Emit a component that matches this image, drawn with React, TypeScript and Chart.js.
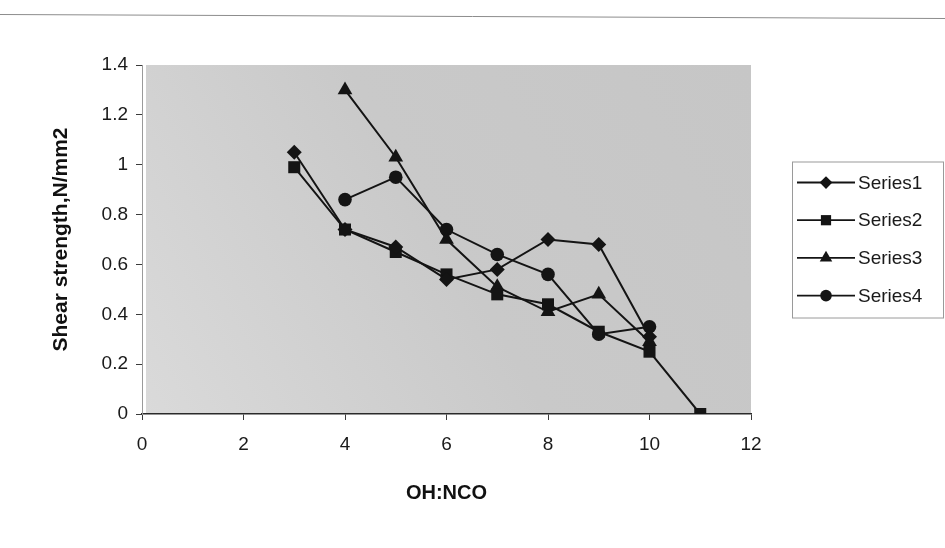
import { useEffect, useRef } from 'react';
import { Chart, registerables } from 'chart.js';
import { drawPoint } from 'chart.js/helpers';

Chart.register(...registerables);

// OH:NCO ratio vs. shear strength (N/mm2) for four series
const series1X = [3, 4, 5, 6, 7, 8, 9, 10];
const series1Y = [1.05, 0.74, 0.67, 0.54, 0.58, 0.7, 0.68, 0.31];
const series2X = [3, 4, 5, 6, 7, 8, 9, 10, 11];
const series2Y = [0.99, 0.74, 0.65, 0.56, 0.48, 0.44, 0.33, 0.25, 0];
const series3X = [4, 5, 6, 7, 8, 9, 10];
const series3Y = [1.3, 1.03, 0.7, 0.51, 0.41, 0.48, 0.29];
const series4X = [4, 5, 6, 7, 8, 9, 10];
const series4Y = [0.86, 0.95, 0.74, 0.64, 0.56, 0.32, 0.35];

const seriesNames = ['Series1', 'Series2', 'Series3', 'Series4'];
const pointStyles = ['rectRot', 'rect', 'triangle', 'circle'];
const pointRadii = [7.5, 8.5, 8.5, 6.8];

const xMin = 0;
const xMax = 12;
const xStep = 2;
const yMin = 0;
const yMax = 1.4;
const yStep = 0.2;

const xTitle = 'OH:NCO';
const yTitle = 'Shear strength,N/mm2';

const FONT = "'Liberation Sans', Arial, sans-serif";
const INK = '#141414';

function toPoints(xs: number[], ys: number[]) {
  return xs.map((x, i) => ({ x, y: ys[i] }));
}

// grey plot-area fill, slightly lighter toward the lower left
const plotBackground = {
  id: 'plotBackground',
  beforeDraw(chart: any) {
    const { ctx, chartArea: a } = chart;
    ctx.save();
    const g = ctx.createLinearGradient(a.right, a.top, a.left, a.bottom);
    g.addColorStop(0, '#c6c6c6');
    g.addColorStop(0.5, '#c9c9c9');
    g.addColorStop(1, '#dadada');
    ctx.fillStyle = g;
    ctx.fillRect(a.left + 4, a.top, a.right - a.left - 4, a.bottom - a.top);
    // rule across the top of the page
    ctx.strokeStyle = '#8c8c8c';
    ctx.lineWidth = 1;
    ctx.beginPath();
    ctx.moveTo(0, 14.5);
    ctx.lineTo(chart.width, 18.5);
    ctx.stroke();
    ctx.restore();
  },
};

// boxed legend with line + marker samples, right of the plot
const boxedLegend = {
  id: 'boxedLegend',
  afterDraw(chart: any) {
    const { ctx, chartArea: a } = chart;
    const w = 151;
    const h = 156;
    const left = a.right + 41;
    const top = (a.top + a.bottom) / 2 - h / 2;
    ctx.save();
    ctx.strokeStyle = '#9a9a9a';
    ctx.lineWidth = 1;
    ctx.strokeRect(left + 0.5, top + 0.5, w, h);
    const rowGap = 37.7;
    const firstRow = top + 21;
    chart.data.datasets.forEach((ds: any, i: number) => {
      const y = firstRow + i * rowGap;
      const lx0 = left + 5;
      const lx1 = left + 63;
      ctx.strokeStyle = INK;
      ctx.lineWidth = 1.8;
      ctx.beginPath();
      ctx.moveTo(lx0, y);
      ctx.lineTo(lx1, y);
      ctx.stroke();
      ctx.fillStyle = INK;
      drawPoint(ctx, { pointStyle: ds.pointStyle, radius: ds.pointRadius * 0.85, rotation: 0, borderWidth: 0 } as any, (lx0 + lx1) / 2, y);
      ctx.fillStyle = '#1a1a1a';
      ctx.font = `19px ${FONT}`;
      ctx.textBaseline = 'middle';
      ctx.textAlign = 'left';
      ctx.fillText(ds.label, lx1 + 3, y + 1);
    });
    ctx.restore();
  },
};

export default function App() {
  const canvasRef = useRef<HTMLCanvasElement | null>(null);

  useEffect(() => {
    if (!canvasRef.current) return;
    const xs = [series1X, series2X, series3X, series4X];
    const ys = [series1Y, series2Y, series3Y, series4Y];
    const datasets = seriesNames.map((name, i) => ({
      label: name,
      data: toPoints(xs[i], ys[i]),
      borderColor: INK,
      backgroundColor: INK,
      borderWidth: 2,
      pointStyle: pointStyles[i],
      pointRadius: pointRadii[i],
      pointBorderWidth: 0,
      pointBackgroundColor: INK,
      showLine: true,
      tension: 0,
    }));

    const chart = new Chart(canvasRef.current, {
      type: 'scatter',
      data: { datasets } as any,
      options: {
        responsive: false,
        animation: false,
        layout: { padding: { left: 0, top: 65, right: 194, bottom: 0 } },
        plugins: {
          legend: { display: false },
          tooltip: { enabled: false },
        },
        scales: {
          x: {
            type: 'linear',
            min: xMin,
            max: xMax,
            afterFit(scale: any) {
              scale.height = 134;
            },
            ticks: {
              stepSize: xStep,
              color: '#1a1a1a',
              font: { family: FONT, size: 19 },
              padding: 13,
              maxRotation: 0,
            },
            grid: {
              drawOnChartArea: false,
              drawTicks: true,
              tickLength: 6,
              color: '#3a3a3a',
            },
            border: { display: true, color: '#2a2a2a', width: 1.5 },
            title: {
              display: true,
              text: xTitle,
              color: '#111',
              font: { family: FONT, size: 20, weight: 'bold' },
              padding: { top: 0, bottom: 43 },
            },
          },
          y: {
            type: 'linear',
            min: yMin,
            max: yMax,
            afterFit(scale: any) {
              scale.width = 142;
            },
            ticks: {
              stepSize: yStep,
              color: '#1a1a1a',
              font: { family: FONT, size: 19 },
              padding: 8,
              callback: (v: any) => String(Number(Number(v).toFixed(1))),
            },
            grid: {
              drawOnChartArea: false,
              drawTicks: true,
              tickLength: 6,
              color: '#3a3a3a',
            },
            border: { display: true, color: '#9a9a9a', width: 1 },
            title: {
              display: true,
              text: yTitle,
              color: '#111',
              font: { family: FONT, size: 21, weight: 'bold' },
              padding: { top: 49, bottom: 0 },
            },
          },
        },
      },
      plugins: [plotBackground, boxedLegend],
    } as any);

    return () => chart.destroy();
  }, []);

  return (
    <div style={{ position: 'fixed', left: 0, top: 0, width: 945, height: 548, background: '#fff' }}>
      <canvas ref={canvasRef} width={945} height={548} />
    </div>
  );
}
